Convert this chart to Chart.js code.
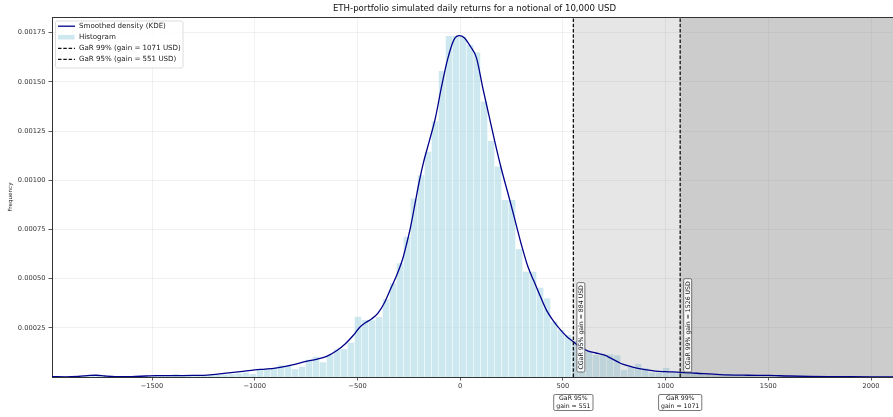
<!DOCTYPE html>
<html>
<head>
<meta charset="utf-8">
<script src="https://cdn.jsdelivr.net/npm/chart.js@4.4.1/dist/chart.umd.min.js"></script>
<style>
  html, body { margin:0; padding:0; background:#fff; }
  #wrap { width:893px; height:417px; }
</style>
</head>
<body>
<div id="wrap"><canvas id="chart" width="893" height="417"></canvas></div>
<script>
// Data
const TITLE = 'ETH-portfolio simulated daily returns for a notional of 10,000 USD';
const X_MIN = -1987, X_MAX = 2107;
const Y_MAX = 0.00183;
const X_TICKS = [-1500, -1000, -500, 0, 500, 1000, 1500, 2000];
const Y_TICKS = [0.00025, 0.0005, 0.00075, 0.001, 0.00125, 0.0015, 0.00175];

// histogram: 120 bins, left edge and width
const BIN_START = -1981, BIN_WIDTH = 34.1;
const HIST = [
  0.000004, 0.000002, 0.000002, 0.000003, 0.000006, 0.000012, 0.000010, 0.000004, 0.000002, 0.000002,
  0.000003, 0.000002, 0.000004, 0.000005, 0.000006, 0.000008, 0.000006, 0.000015, 0.000006, 0.000008,
  0.000008, 0.000006, 0.000010, 0.000012, 0.000012, 0.000015, 0.000018, 0.000022, 0.000015, 0.000036,
  0.000040, 0.000044, 0.000060, 0.000058, 0.000040, 0.000052, 0.000088, 0.000103, 0.000075, 0.000112,
  0.000140, 0.000142, 0.000174, 0.000306, 0.000290, 0.000288, 0.000305, 0.000395, 0.000476, 0.000578,
  0.000713, 0.000908, 0.001026, 0.001145, 0.001300, 0.001555, 0.001734, 0.001734, 0.001729, 0.001688,
  0.001650, 0.001400, 0.001200, 0.001070, 0.000900, 0.000900, 0.000650, 0.000535, 0.000535, 0.000454,
  0.000400, 0.000281, 0.000239, 0.000213, 0.000183, 0.000183, 0.000130, 0.000112, 0.000112, 0.000115,
  0.000110, 0.000036, 0.000052, 0.000066, 0.000045, 0.000022, 0.000022, 0.000046, 0.000025, 0.000020,
  0.000030, 0.000025, 0.000020, 0.000015, 0.000012, 0.000010, 0.000015, 0.000008, 0.000010, 0.000006,
  0.000008, 0.000005, 0.000006, 0.000004, 0.000005, 0.000003, 0.000004, 0.000002, 0.000003, 0.000002,
  0.000002, 0.000001, 0.000002, 0.000001, 0.000001, 0.000001, 0.000002, 0.000001, 0.000001, 0.000001
];

// smoothed density (KDE)
const KDE_X = [
  -1987, -1920, -1860, -1800, -1770, -1730, -1680, -1600, -1530, -1480, -1400, -1300, -1230, -1150,
  -1070, -1000, -950, -900, -850, -800, -750, -700, -650, -600, -560, -520, -490, -460, -430, -400,
  -370, -340, -310, -280, -260, -240, -220, -200, -180, -150, -120, -90, -60, -30, -5, 20, 50, 80,
  110, 140, 170, 200, 240, 270, 300, 330, 360, 390, 420, 450, 480, 520, 550, 580, 620, 660, 700, 740,
  780, 820, 860, 900, 950, 1000, 1071, 1150, 1265, 1400, 1500, 1600, 1700, 1850, 2000, 2107
];
const KDE_Y = [
  0.000002, 0.000001, 0.000003, 0.000008, 0.000009, 0.000005, 0.000002, 0.000002, 0.000005, 0.000007,
  0.000007, 0.000008, 0.000010, 0.000018, 0.000027, 0.000036, 0.000040, 0.000045, 0.000054, 0.000066,
  0.000080, 0.000090, 0.000105, 0.000135, 0.000168, 0.000212, 0.000252, 0.000277, 0.000296, 0.000325,
  0.000375, 0.000445, 0.000515, 0.000600, 0.000680, 0.000770, 0.000880, 0.000990, 0.001085, 0.001200,
  0.001320, 0.001480, 0.001620, 0.001715, 0.001735, 0.001725, 0.001680, 0.001620, 0.001470, 0.001330,
  0.001190, 0.001060, 0.000905, 0.000785, 0.000665, 0.000560, 0.000485, 0.000410, 0.000340, 0.000290,
  0.000250, 0.000205, 0.000180, 0.000155, 0.000133, 0.000122, 0.000112, 0.000092, 0.000070, 0.000056,
  0.000045, 0.000037, 0.000030, 0.000027, 0.000024, 0.000019, 0.000012, 0.000009, 0.000008, 0.000005,
  0.000003, 0.000002, 0.000001, 0.000001
];

// gain-at-risk levels
const GAR_LEVELS = [95, 99];
const GAR_GAIN = [551, 1071];
const CGAR_GAIN = [884, 1526];

const FONT = "'DejaVu Sans', sans-serif";
const KDE_COLOR = '#00008b';
const HIST_COLOR = 'rgba(173,216,230,0.6)';

const binCenters = HIST.map((_, i) => BIN_START + BIN_WIDTH * (i + 0.5));

function rrect(ctx, x, y, w, h, r){
  ctx.beginPath();
  if(ctx.roundRect) ctx.roundRect(x, y, w, h, r);
  else ctx.rect(x, y, w, h);
}

function box(ctx, x, y, w, h){
  rrect(ctx, x, y, w, h, 1.5);
  ctx.fillStyle = 'rgba(255,255,255,0.85)';
  ctx.fill();
  ctx.strokeStyle = '#555';
  ctx.lineWidth = 0.8;
  ctx.stroke();
}

const overlay = {
  id: 'overlay',
  afterDatasetDraw(chart, args){
    if(args.index !== 0) return;
    // shaded tail regions, drawn over the histogram
    const { ctx, chartArea: a, scales: { x } } = chart;
    const x95 = x.getPixelForValue(GAR_GAIN[0]);
    const x99 = x.getPixelForValue(GAR_GAIN[1]);
    ctx.save();
    ctx.fillStyle = 'rgba(128,128,128,0.2)';
    ctx.fillRect(x95, a.top, x99 - x95, a.bottom - a.top);
    ctx.fillStyle = 'rgba(128,128,128,0.4)';
    ctx.fillRect(x99, a.top, a.right - x99, a.bottom - a.top);
    ctx.restore();
  },
  afterDraw(chart){
    const { ctx, chartArea: a, scales: { x } } = chart;
    ctx.save();

    // top spine
    ctx.strokeStyle = '#333';
    ctx.lineWidth = 1;
    ctx.beginPath();
    ctx.moveTo(a.left, a.top + 0.5);
    ctx.lineTo(a.right, a.top + 0.5);
    ctx.stroke();

    // title
    ctx.fillStyle = '#111';
    ctx.font = `8.6px ${FONT}`;
    ctx.textAlign = 'center';
    ctx.textBaseline = 'middle';
    ctx.fillText(TITLE, (a.left + a.right) / 2 + 2, 9);

    // y label
    ctx.save();
    ctx.translate(11, (a.top + a.bottom) / 2);
    ctx.rotate(-Math.PI / 2);
    ctx.font = `5.6px ${FONT}`;
    ctx.fillStyle = '#222';
    ctx.fillText('Frequency', 0, 0);
    ctx.restore();

    // annotations per level
    ctx.font = `6.2px ${FONT}`;
    GAR_LEVELS.forEach((lvl, i) => {
      const px = x.getPixelForValue(GAR_GAIN[i]);

      // vertical CGaR label
      const txt = `CGaR ${lvl}% gain = ${CGAR_GAIN[i]} USD`;
      const tw = ctx.measureText(txt).width;
      const bx = px + 3.5, bw = 8, bh = tw + 5, by = a.bottom - 5 - bh;
      box(ctx, bx, by, bw, bh);
      ctx.save();
      ctx.translate(bx + bw / 2 + 0.3, a.bottom - 5 - 2.5);
      ctx.rotate(-Math.PI / 2);
      ctx.fillStyle = '#111';
      ctx.textAlign = 'left';
      ctx.textBaseline = 'middle';
      ctx.fillText(txt, 0, 0);
      ctx.restore();

      // box under the axis
      const l1 = `GaR ${lvl}%`, l2 = `gain = ${GAR_GAIN[i]}`;
      const w = Math.max(ctx.measureText(l1).width, ctx.measureText(l2).width) + 5;
      box(ctx, px - w / 2, 394.5, w, 16);
      ctx.fillStyle = '#111';
      ctx.textAlign = 'center';
      ctx.textBaseline = 'middle';
      ctx.fillText(l1, px, 398.7);
      ctx.fillText(l2, px, 406.3);
    });

    // legend
    const lx = 55.5, ly = 21;
    rrect(ctx, lx, ly, 127.5, 47, 2);
    ctx.fillStyle = 'rgba(255,255,255,0.85)';
    ctx.fill();
    ctx.strokeStyle = '#d4d4d4';
    ctx.lineWidth = 0.8;
    ctx.stroke();

    const ds = chart.data.datasets;
    const rows = [ds[1], ds[0], ds[2], ds[3]];
    const ys = [26.2, 37.2, 48.3, 59.3];
    ctx.font = `7.1px ${FONT}`;
    ctx.textAlign = 'left';
    ctx.textBaseline = 'middle';
    rows.forEach((d, i) => {
      const y = ys[i];
      if(d.type === 'bar'){
        ctx.fillStyle = HIST_COLOR;
        ctx.fillRect(58, y - 2.3, 16.5, 4.6);
      } else {
        ctx.strokeStyle = d.borderColor;
        ctx.lineWidth = d.borderWidth;
        ctx.setLineDash(d.borderDash || []);
        ctx.beginPath();
        ctx.moveTo(58, y);
        ctx.lineTo(75, y);
        ctx.stroke();
        ctx.setLineDash([]);
      }
      ctx.fillStyle = '#222';
      ctx.fillText(d.label, 79, y + 0.3);
    });

    ctx.restore();
  }
};

const dashed = (i) => ({
  type: 'line',
  label: `GaR ${GAR_LEVELS[i]}% (gain = ${GAR_GAIN[i]} USD)`,
  data: [{ x: GAR_GAIN[i], y: 0 }, { x: GAR_GAIN[i], y: Y_MAX }],
  borderColor: '#111',
  borderWidth: 1.3,
  borderDash: [3.5, 1.8],
  pointRadius: 0,
  order: 1
});

new Chart(document.getElementById('chart'), {
  type: 'bar',
  data: {
    datasets: [
      {
        type: 'bar',
        label: 'Histogram',
        data: binCenters.map((c, i) => ({ x: c, y: HIST[i] })),
        backgroundColor: HIST_COLOR,
        borderWidth: 0,
        barPercentage: 0.92,
        categoryPercentage: 1,
        order: 4
      },
      {
        type: 'line',
        label: 'Smoothed density (KDE)',
        data: KDE_X.map((v, i) => ({ x: v, y: KDE_Y[i] })),
        borderColor: KDE_COLOR,
        borderWidth: 1.3,
        pointRadius: 0,
        cubicInterpolationMode: 'monotone',
        order: 2
      },
      dashed(1),
      dashed(0)
    ]
  },
  options: {
    responsive: false,
    devicePixelRatio: 1,
    animation: false,
    events: [],
    layout: { padding: { top: 17, right: 0, left: 0, bottom: 0 } },
    plugins: { legend: { display: false }, tooltip: { enabled: false }, title: { display: false } },
    scales: {
      x: {
        type: 'linear',
        min: X_MIN, max: X_MAX,
        offset: false,
        afterBuildTicks: s => { s.ticks = X_TICKS.map(v => ({ value: v })); },
        afterFit: s => { s.height = 40; },
        ticks: {
          font: { family: FONT, size: 6.7 },
          color: '#333',
          padding: 2,
          maxRotation: 0,
          autoSkip: false,
          callback: v => (v < 0 ? '\u2212' + Math.abs(v) : String(v))
        },
        grid: { color: 'rgba(0,0,0,0.07)', lineWidth: 0.8, offset: false, tickLength: 3.5, tickColor: '#333', tickWidth: 0.8 },
        border: { display: true, color: '#333', width: 1 }
      },
      y: {
        type: 'linear',
        min: 0, max: Y_MAX,
        afterBuildTicks: s => { s.ticks = Y_TICKS.map(v => ({ value: v })); },
        afterFit: s => { s.width = 52; },
        ticks: {
          font: { family: FONT, size: 6.7 },
          color: '#333',
          padding: 3,
          autoSkip: false,
          callback: v => v.toFixed(5)
        },
        grid: { color: 'rgba(0,0,0,0.07)', lineWidth: 0.8, tickLength: 3.5, tickColor: '#333', tickWidth: 0.8 },
        border: { display: true, color: '#333', width: 1 }
      }
    }
  },
  plugins: [overlay]
});
</script>
</body>
</html>
